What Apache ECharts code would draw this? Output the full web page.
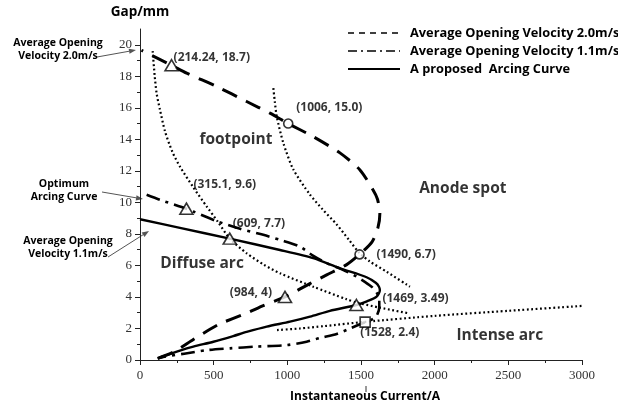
<!DOCTYPE html>
<html>
<head>
<meta charset="utf-8">
<script src="https://cdn.jsdelivr.net/npm/echarts@6/dist/echarts.min.js"></script>
<style>
  html, body { margin: 0; padding: 0; background: #fff; }
  #chart { width: 618px; height: 410px; }
</style>
</head>
<body>
<div id="chart"></div>
<script>
// Gap (mm) versus instantaneous current (A)

// Average opening velocity 2.0 m/s (dashed)
const velocity20 = [
  [120, 0.1], [226, 0.5], [362, 1.3], [475, 1.95], [543, 2.3], [724, 2.98],
  [837, 3.45], [984, 4.0], [1153, 4.85], [1267, 5.4], [1403, 6.05], [1490, 6.7],
  [1575, 7.5], [1615, 8.4], [1628, 9.3], [1612, 10.2], [1581, 10.8], [1493, 12.06],
  [1357, 13.14], [1174, 14.18], [1006, 15.0], [882, 15.66], [724, 16.4],
  [521, 17.35], [317, 18.2], [214.24, 18.7], [10, 19.65]
];

// Average opening velocity 1.1 m/s (dash-dot)
const velocity11 = [
  [45, 10.48], [136, 10.16], [315.1, 9.6], [362, 9.42], [509, 8.85], [679, 8.32],
  [837, 7.94], [950, 7.62], [1086, 7.19], [1174, 6.62], [1267, 6.14], [1370, 5.75],
  [1470, 5.29], [1572, 4.65], [1605, 4.3], [1624, 3.85], [1624, 3.35], [1606, 2.8],
  [1570, 2.55], [1528, 2.4], [1425, 2.0], [1335, 1.65], [1222, 1.4], [1131, 1.16],
  [1000, 0.95], [790, 0.85], [611, 0.74], [450, 0.62], [300, 0.4], [158, 0.2], [120, 0.1]
];

// A proposed arcing curve (solid)
const proposedCurve = [
  [0, 8.93], [271, 8.38], [609, 7.7], [950, 6.98], [1176, 6.46], [1357, 5.82],
  [1538, 5.25], [1600, 4.9], [1622, 4.65], [1628, 4.42], [1606, 4.02], [1540, 3.72],
  [1469, 3.49], [1289, 3.12], [1154, 2.75], [1018, 2.43], [860, 2.12], [724, 1.78],
  [633, 1.52], [498, 1.16], [362, 0.85], [271, 0.6], [136, 0.17]
];

// Dotted region boundaries
const boundaryLeft = [
  [86, 19.6], [100, 18.0], [113, 16.9], [135, 15.9], [170, 14.5], [220, 13.2],
  [271, 12.27], [362, 10.95], [452, 9.75], [530, 8.75], [609, 7.7], [724, 6.77],
  [840, 6.05], [950, 5.5], [1176, 4.65], [1403, 3.85], [1469, 3.65], [1628, 3.32],
  [1830, 2.95]
];
const boundaryRight = [
  [905, 17.25], [915, 16.4], [928, 15.45], [973, 13.76], [1040, 12.1], [1153, 10.5],
  [1240, 9.55], [1335, 8.6], [1420, 7.6], [1490, 6.78], [1560, 6.25], [1674, 5.6],
  [1832, 4.65]
];
const boundaryLow = [
  [930, 1.9], [1086, 2.0], [1250, 2.15], [1528, 2.42], [2000, 2.8], [2500, 3.12],
  [3000, 3.43]
];

// Marked points and their labels
const trianglePts = [[214.24, 18.7], [315.1, 9.6], [609, 7.7], [984, 4], [1469, 3.49]];
const triangleLabels = ['(214.24, 18.7)', '(315.1, 9.6)', '(609, 7.7)', '(984, 4)', '(1469, 3.49)'];
const circlePts = [[1006, 15.0], [1490, 6.7]];
const circleLabels = ['(1006, 15.0)', '(1490, 6.7)'];
const squarePts = [[1528, 2.4]];
const squareLabels = ['(1528, 2.4)'];

// Region names
const regionNames = ['footpoint', 'Anode spot', 'Diffuse arc', 'Intense arc'];
const regionPts = [[651, 13.97], [2191, 10.86], [421, 6.1], [2442, 1.52]];

// Axis ticks
const xMajor = [0, 500, 1000, 1500, 2000, 2500, 3000];
const yMajor = [0, 2, 4, 6, 8, 10, 12, 14, 16, 18, 20];
const yMinor = [1, 3, 5, 7, 9, 11, 13, 15, 17, 19];

// Series names
const seriesNames = [
  'Average Opening Velocity 2.0m/s',
  'Average Opening Velocity 1.1m/s',
  'A proposed  Arcing Curve'
];

const SANS = '"Open Sans", Lato, sans-serif';
const SERIF = '"Liberation Serif", "DejaVu Serif", serif';
const INK = '#000';

const chart = echarts.init(document.getElementById('chart'), null, { renderer: 'canvas' });

const pointLabel = (text, align, dx, dy) => ({
  show: true, position: 'inside', formatter: text, align: align, verticalAlign: 'middle',
  offset: [dx, dy], fontFamily: SANS, fontWeight: 'bold', fontSize: 12, color: INK
});

// label placement next to each marker
const triLabelPlace = [['left', 2, -8], ['left', 7, -24], ['left', 3, -15], ['right', -13, -4], ['left', 26, -6]];
const circLabelPlace = [['left', 8, -16], ['left', 17, 0]];
const sqLabelPlace = [['left', -5, 10]];

const markerStyle = { color: '#fff', borderColor: '#000', borderWidth: 1.6 };

function curve(data, lineStyle) {
  return {
    type: 'line', data: data, showSymbol: false, symbol: 'none', smooth: 0.25,
    lineStyle: Object.assign({ color: '#000', cap: 'butt', join: 'round' }, lineStyle),
    silent: true, animation: false, z: 3
  };
}

// Legend drawn as small sample lines with text
const legendX = 348, legendTextX = 410, legendY = [33, 51, 69];
const legendDash = [[6, 5], [9, 4, 2, 4], null];
const legendGraphics = [];
seriesNames.forEach((name, i) => {
  legendGraphics.push({
    type: 'line', shape: { x1: legendX, y1: legendY[i], x2: legendX + 52, y2: legendY[i] },
    style: { stroke: '#000', lineWidth: i === 2 ? 2 : 1.5, lineDash: legendDash[i] }
  });
  legendGraphics.push({
    type: 'text', x: legendTextX, y: legendY[i],
    style: { text: name, fill: INK, font: 'bold 12.8px ' + SANS, align: 'left', verticalAlign: 'middle' }
  });
});

// Side notes with arrows
function arrow(x1, y1, x2, y2) {
  const len = Math.hypot(x2 - x1, y2 - y1);
  const dx = (x2 - x1) / len, dy = (y2 - y1) / len;
  const bx = x2 - dx * 7, by = y2 - dy * 7;
  const nx = -dy * 2.6, ny = dx * 2.6;
  return [
    { type: 'line', shape: { x1: x1, y1: y1, x2: bx, y2: by }, style: { stroke: '#555', lineWidth: 1 } },
    { type: 'polygon', shape: { points: [[x2, y2], [bx + nx, by + ny], [bx - nx, by - ny]] }, style: { fill: '#555' } }
  ];
}
function note(lines, cx, cy) {
  return lines.map((t, i) => ({
    type: 'text', x: cx, y: cy + i * 13,
    style: { text: t, fill: INK, font: 'bold 10.5px ' + SANS, align: 'center', verticalAlign: 'middle' }
  }));
}
const noteGraphics = [].concat(
  note(['Average Opening', 'Velocity 2.0m/s'], 58, 43), arrow(97, 57, 136, 50),
  note(['Optimum', 'Arcing Curve'], 64, 184), arrow(102, 192, 143, 199),
  note(['Average Opening', 'Velocity 1.1m/s'], 68, 241), arrow(108, 257, 149, 231),
  [{ type: 'line', shape: { x1: 366, y1: 386, x2: 366, y2: 392 }, style: { stroke: '#333', lineWidth: 1 } }]
);

const option = {
  animation: false,
  backgroundColor: '#fff',
  grid: { left: 140, right: 36, top: 29, bottom: 50, containLabel: false, outerBoundsMode: 'none' },
  xAxis: {
    type: 'value', min: 0, max: 3000, interval: 500,
    name: 'Instantaneous Current/A', nameLocation: 'middle', nameGap: 31,
    nameTextStyle: { fontFamily: SANS, fontWeight: 'bold', fontSize: 12, color: INK, padding: [0, 0, 0, 8] },
    axisLine: { show: true, onZero: false, lineStyle: { color: '#222', width: 1 } },
    axisTick: { show: true, inside: false, length: 5, lineStyle: { color: '#222' } },
    minorTick: { show: true, splitNumber: 2, length: 3, lineStyle: { color: '#222' } },
    axisLabel: { fontFamily: SERIF, fontSize: 13, color: '#333', margin: 9,
      customValues: xMajor, formatter: v => String(v) },
    splitLine: { show: false }, minorSplitLine: { show: false }
  },
  yAxis: [{
    type: 'value', min: 0, max: 21, position: 'left',
    name: 'Gap/mm', nameLocation: 'end', nameGap: 10,
    nameTextStyle: { fontFamily: SANS, fontWeight: 'bold', fontSize: 13.5, color: INK, align: 'center' },
    axisLine: { show: true, onZero: false, lineStyle: { color: '#222', width: 1 } },
    axisTick: { show: true, inside: false, length: 5, lineStyle: { color: '#222' }, customValues: yMajor },
    axisLabel: { fontFamily: SERIF, fontSize: 13, color: '#333', margin: 8, customValues: yMajor,
      formatter: v => String(v) },
    splitLine: { show: false }
  }, {
    type: 'value', min: 0, max: 21, position: 'left', offset: 0,
    axisLine: { show: false },
    axisTick: { show: true, inside: false, length: 3, lineStyle: { color: '#222' }, customValues: yMinor },
    axisLabel: { show: false },
    splitLine: { show: false }
  }],
  graphic: legendGraphics.concat(noteGraphics),
  series: [
    curve(boundaryLeft, { width: 2.2, type: [1.8, 2.6] }),
    curve(boundaryRight, { width: 2.2, type: [1.8, 2.6] }),
    curve(boundaryLow, { width: 2.2, type: [1.8, 2.6] }),
    Object.assign(curve(velocity20, { width: 3, type: [16, 10] }), { name: seriesNames[0] }),
    Object.assign(curve(velocity11, { width: 2.6, type: [14, 6, 3, 6] }), { name: seriesNames[1] }),
    Object.assign(curve(proposedCurve, { width: 2.4, type: 'solid' }), { name: seriesNames[2] }),
    {
      type: 'scatter', symbol: 'triangle', symbolSize: [13, 11], itemStyle: markerStyle, z: 6,
      data: trianglePts.map((p, i) => ({ value: p,
        label: pointLabel(triangleLabels[i], triLabelPlace[i][0], triLabelPlace[i][1], triLabelPlace[i][2]) })),
      silent: true
    },
    {
      type: 'scatter', symbol: 'circle', symbolSize: 9, itemStyle: markerStyle, z: 6,
      data: circlePts.map((p, i) => ({ value: p,
        label: pointLabel(circleLabels[i], circLabelPlace[i][0], circLabelPlace[i][1], circLabelPlace[i][2]) })),
      silent: true
    },
    {
      type: 'scatter', symbol: 'rect', symbolSize: 10, itemStyle: markerStyle, z: 6,
      data: squarePts.map((p, i) => ({ value: p,
        label: pointLabel(squareLabels[i], sqLabelPlace[i][0], sqLabelPlace[i][1], sqLabelPlace[i][2]) })),
      silent: true
    },
    {
      type: 'scatter', symbolSize: 0, z: 6, silent: true,
      data: regionPts.map((p, i) => ({ value: p, label: {
        show: true, position: 'inside', formatter: regionNames[i], align: 'center', verticalAlign: 'middle',
        fontFamily: SANS, fontWeight: 'bold', fontSize: 15.5, color: INK } }))
    }
  ]
};

chart.setOption(option);
</script>
</body>
</html>
